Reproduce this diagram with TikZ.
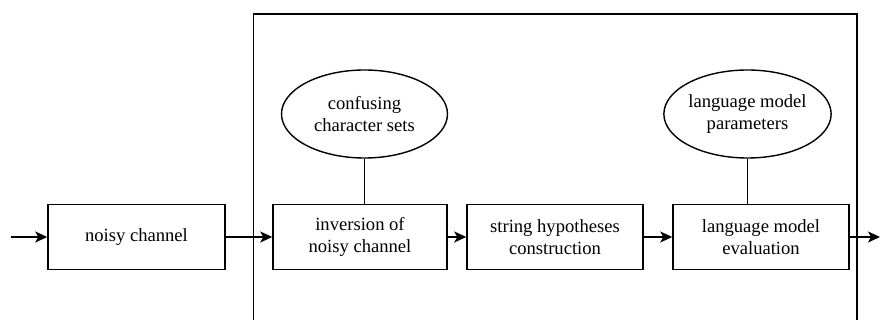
\documentclass[tikz,border=0pt]{standalone}
\usepackage{fontspec}
\setmainfont{Liberation Serif}
\usetikzlibrary{arrows.meta,shapes.geometric}
\begin{document}
\begin{tikzpicture}[x=1pt,y=-1pt,
  every node/.style={font=\fontsize{18.6}{22}\selectfont, align=center, inner sep=0pt},
  procbox/.style={draw, line width=1.5pt, minimum height=65pt},
  datael/.style={draw, ellipse, line width=1.4pt, minimum width=166pt, minimum height=88pt},
  flow/.style={line width=1.5pt, -{Stealth[length=12pt,width=11pt,inset=3pt]}},
  link/.style={line width=1.4pt}]
\useasboundingbox (0,0) rectangle (880,320);
% outer frame (open at bottom)
\coordinate (fbl) at (253.5,320);
\coordinate (ftl) at (253.5,14);
\coordinate (ftr) at (857,14);
\coordinate (fbr) at (857,320);
\draw[link] (fbl) -- (ftl) -- (ftr) -- (fbr);
% boxes
\node[procbox, minimum width=177pt] (noisy) at (136.5,237) {noisy channel};
\node[procbox, minimum width=174pt] (inv) at (360,237) {inversion of\\noisy channel};
\node[procbox, minimum width=176pt] (str) at (555,237) {string hypotheses\\construction};
\node[procbox, minimum width=176pt] (lm) at (761,237) {language model\\evaluation};
% ellipses
\node[datael] (conf) at (364.5,114) {confusing\\character sets};
\node[datael, minimum width=167pt] (par) at (747.5,114) {language model\\parameters};
% links
\draw[link] (conf.south) -- (conf.south |- inv.north);
\draw[link] (par.south) -- (par.south |- lm.north);
% flow
\coordinate (in) at (11,237);
\coordinate (out) at (880,237);
\draw[flow] (in) -- (noisy.west);
\draw[flow] (noisy.east) -- (inv.west);
\draw[flow] (inv.east) -- (str.west);
\draw[flow] (str.east) -- (lm.west);
\draw[flow] (lm.east) -- (out);
\end{tikzpicture}
\end{document}
